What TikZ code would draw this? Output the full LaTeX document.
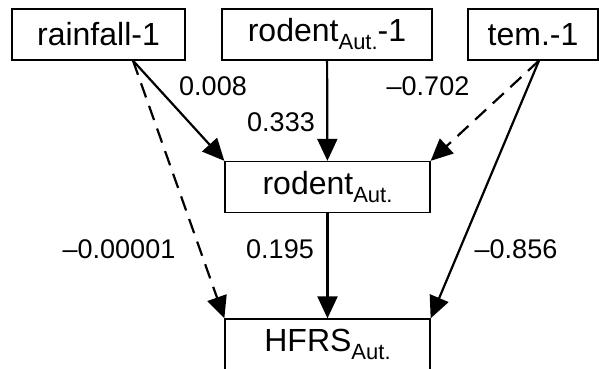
\documentclass[tikz,border=0pt]{standalone}
\usepackage{fontspec}
\setmainfont{Liberation Sans}
\usetikzlibrary{arrows.meta}
\newcommand{\aut}{\raisebox{-4pt}{\fontsize{11}{11}\selectfont Aut.}}
\tikzset{
	var/.style={draw, line width=0.65pt, minimum height=25.5pt, inner sep=0pt, font=\fontsize{16}{18}\selectfont},
	coef/.style={font=\fontsize{13.5}{15}\selectfont},
	link/.style={-{Triangle[length=11pt,width=10pt]}, line width=1.1pt},
	weak/.style={link, dash pattern=on 7.5pt off 4.5pt},
}
\begin{document}
\begin{tikzpicture}[x=0.5pt,y=-0.5pt]
	\useasboundingbox (0,0) rectangle (599,369);
	% variables
	\node[var, minimum width=86.5pt] (rain) at (98.5,34.5) {rainfall-1};
	\node[var, minimum width=105pt] (rodlag) at (327,34.5) {rodent\aut-1};
	\node[var, minimum width=65pt] (tem) at (533,34.5) {tem.-1};
	\node[var, minimum width=102.5pt] (rod) at (327.5,187) {rodent\aut};
	\node[var, minimum width=102.5pt] (hfrs) at (327.5,344.5) {HFRS\aut};
	
	% paths
	\draw[link] ([xshift=17.25pt]rain.south) -- (rod.north west);
	\draw[weak] ([xshift=17.25pt]rain.south) -- (hfrs.north west);
	\draw[link] (rodlag) -- (rod);
	\draw[weak] ([xshift=3pt]tem.south) -- (rod.north east);
	\draw[link] ([xshift=3pt]tem.south) -- (hfrs.north east);
	\draw[link] (rod) -- (hfrs);
	
	% coefficients
	\node[coef] (crainrod) at (213,86) {0.008};
	\node[coef] (clagrod) at (281,122) {0.333};
	\node[coef] (ctemrod) at (428,86) {--0.702};
	\node[coef] (crainhfrs) at (119,249) {--0.00001};
	\node[coef] (crodhfrs) at (280,249) {0.195};
	\node[coef] (ctemhfrs) at (516,249) {--0.856};
\end{tikzpicture}
\end{document}
